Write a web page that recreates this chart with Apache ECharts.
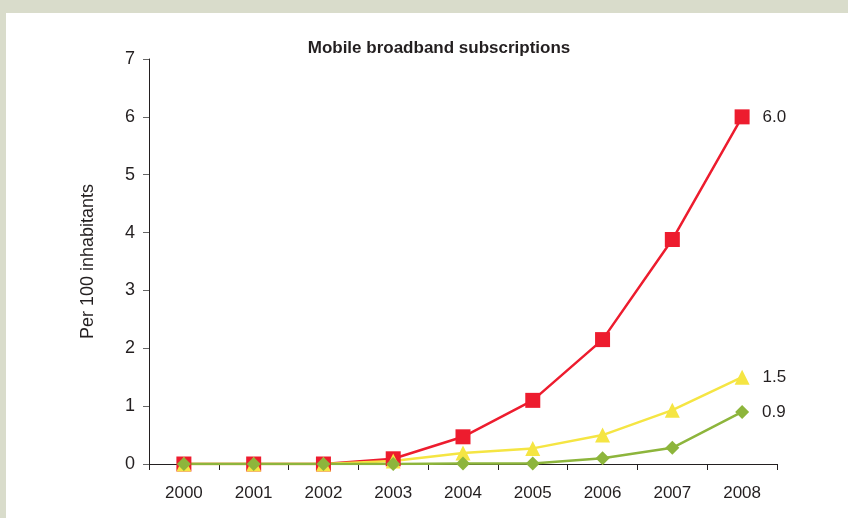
<!DOCTYPE html>
<html>
<head>
<meta charset="utf-8">
<script src="https://cdn.jsdelivr.net/npm/echarts@6/dist/echarts.min.js"></script>
<style>
	html, body { margin: 0; padding: 0; background: #d9dccb; }
	#panel { position: absolute; left: 6px; top: 13px; width: 842px; height: 505px; background: #ffffff; }
	#mobile-chart { position: absolute; left: 0; top: 0; width: 848px; height: 518px; }
</style>
</head>
<body>
<div id="panel"></div>
<div id="mobile-chart"></div>
<script>
	const years = ['2000', '2001', '2002', '2003', '2004', '2005', '2006', '2007', '2008'];
	const redData = [0, 0, 0, 0.09, 0.47, 1.1, 2.15, 3.88, 6.0];
	const yellowData = [0, 0, 0, 0.05, 0.19, 0.27, 0.5, 0.93, 1.5];
	const greenData = [0, 0, 0, 0, 0.01, 0.01, 0.1, 0.28, 0.9];
	const endLabels = ['6.0', '1.5', '0.9'];

	const fontFam = '"Liberation Sans Narrow", "Liberation Sans", Arial, sans-serif';

	function lastLabel(arr, text) {
		return arr.map((v, i) => {
			if(i === arr.length - 1) {
				return {
					value: v,
					label: {
						show: true,
						position: 'right',
						distance: 13,
						formatter: text,
						color: '#231f20',
						fontSize: 17,
						fontFamily: fontFam
					}
				};
			}
			return v;
		});
	}

	let chart = echarts.init(document.getElementById('mobile-chart'));
	const option = {
		animation: false,
		backgroundColor: 'transparent',
		title: {
			text: 'Mobile broadband subscriptions',
			left: 434,
			textAlign: 'center',
			top: 35,
			textStyle: {
				color: '#231f20',
				fontSize: 17,
				fontWeight: 'bold',
				fontFamily: fontFam
			}
		},
		grid: {
			left: 149,
			right: 71,
			top: 59,
			bottom: 54
		},
		xAxis: {
			type: 'category',
			boundaryGap: true,
			data: years,
			axisLine: { lineStyle: { color: '#231f20', width: 1 } },
			axisTick: { show: true, length: 6, lineStyle: { color: '#231f20' } },
			axisLabel: { color: '#231f20', fontSize: 17, margin: 21, fontFamily: fontFam }
		},
		yAxis: {
			type: 'value',
			min: 0,
			max: 7,
			interval: 1,
			name: 'Per 100 inhabitants',
			nameLocation: 'middle',
			nameGap: 52,
			nameTextStyle: { color: '#231f20', fontSize: 18, fontFamily: fontFam },
			splitLine: { show: false },
			axisLine: { show: true, lineStyle: { color: '#231f20', width: 1 } },
			axisTick: { show: true, length: 6, lineStyle: { color: '#666' } },
			axisLabel: { color: '#231f20', fontSize: 18, margin: 14, fontFamily: fontFam }
		},
		series: [
			{
				name: 'red',
				type: 'line',
				data: lastLabel(redData, endLabels[0]),
				symbol: 'rect',
				symbolSize: 15,
				lineStyle: { color: '#ed1c2e', width: 2.5 },
				itemStyle: { color: '#ed1c2e' }
			},
			{
				name: 'yellow',
				type: 'line',
				data: lastLabel(yellowData, endLabels[1]),
				symbol: 'triangle',
				symbolSize: 15,
				lineStyle: { color: '#f5e543', width: 2.5 },
				itemStyle: { color: '#f5e543' }
			},
			{
				name: 'green',
				type: 'line',
				data: lastLabel(greenData, endLabels[2]),
				symbol: 'diamond',
				symbolSize: 14,
				lineStyle: { color: '#8db53c', width: 2.5 },
				itemStyle: { color: '#8db53c' }
			}
		]
	};
	chart.setOption(option);
</script>
</body>
</html>
